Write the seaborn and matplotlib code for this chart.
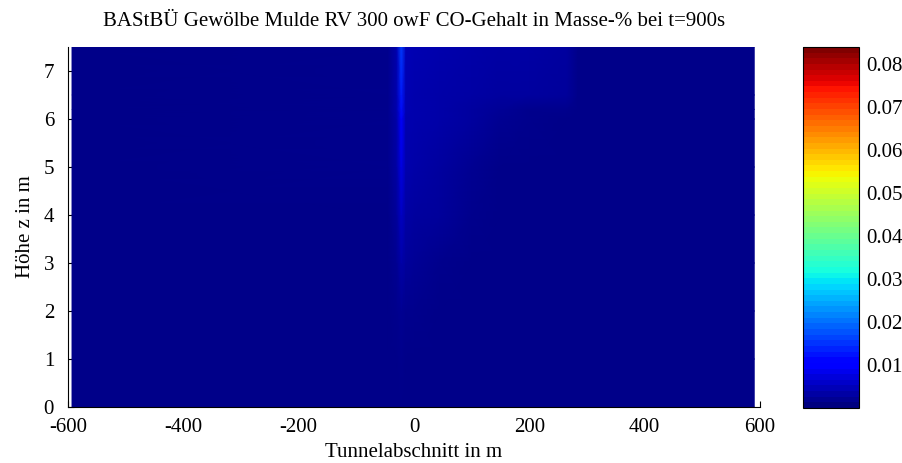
import numpy as np
import matplotlib
matplotlib.use("Agg")
import matplotlib.pyplot as plt
import seaborn as sns
from matplotlib.colors import Normalize
from matplotlib.cm import ScalarMappable

# ---- data ----
x_nodes = [-593, -45, -30, -22, -14, 0, 45, 100, 150, 200, 265, 285, 590]
z_nodes = [0.0, 1.0, 2.0, 3.0, 4.0, 5.0, 6.0, 6.2, 6.5, 7.5]
co_row_z0   = [0.0008, 0.0008, 0.0008, 0.0008, 0.0008, 0.0008, 0.0008, 0.0008, 0.0008, 0.0008, 0.0008, 0.0008, 0.0008]
co_row_z1   = [0.0008, 0.0008, 0.0008, 0.0010, 0.0009, 0.0008, 0.0008, 0.0008, 0.0008, 0.0008, 0.0008, 0.0008, 0.0008]
co_row_z2   = [0.0008, 0.0008, 0.0010, 0.0016, 0.0011, 0.0010, 0.0009, 0.0008, 0.0008, 0.0008, 0.0008, 0.0008, 0.0008]
co_row_z3   = [0.0008, 0.0008, 0.0015, 0.0032, 0.0020, 0.0018, 0.0012, 0.0008, 0.0008, 0.0008, 0.0008, 0.0008, 0.0008]
co_row_z4   = [0.0008, 0.0009, 0.0022, 0.0052, 0.0028, 0.0025, 0.0020, 0.0010, 0.0008, 0.0008, 0.0008, 0.0008, 0.0008]
co_row_z5   = [0.0008, 0.0010, 0.0028, 0.0075, 0.0033, 0.0030, 0.0026, 0.0016, 0.0009, 0.0008, 0.0008, 0.0008, 0.0008]
co_row_z6   = [0.0008, 0.0011, 0.0032, 0.0105, 0.0036, 0.0034, 0.0030, 0.0024, 0.0014, 0.0010, 0.0008, 0.0008, 0.0008]
co_row_z62  = [0.0008, 0.0011, 0.0033, 0.0115, 0.0037, 0.0035, 0.0031, 0.0026, 0.0018, 0.0012, 0.0010, 0.0008, 0.0008]
co_row_z65  = [0.0008, 0.0012, 0.0034, 0.0125, 0.0038, 0.0036, 0.0032, 0.0028, 0.0025, 0.0024, 0.0022, 0.0008, 0.0008]
co_row_z75  = [0.0008, 0.0012, 0.0035, 0.0155, 0.0040, 0.0038, 0.0034, 0.0030, 0.0028, 0.0027, 0.0025, 0.0008, 0.0008]

x_ticks = [-600, -400, -200, 0, 200, 400, 600]
z_ticks = [0, 1, 2, 3, 4, 5, 6, 7]
cbar_ticks = [0.01, 0.02, 0.03, 0.04, 0.05, 0.06, 0.07, 0.08]
vmin, vmax = 0.0, 0.084

title = "BAStBÜ Gewölbe Mulde RV 300 owF CO-Gehalt in Masse-% bei t=900s"
xlabel = "Tunnelabschnitt in m"
ylabel = "Höhe z in m"

# ---- plotting ----
sns.set_theme(style="ticks")
plt.rcParams['font.family'] = ['Liberation Serif', 'DejaVu Serif']
plt.rcParams['font.size'] = 15
plt.rcParams['text.color'] = 'black'
plt.rcParams['axes.labelcolor'] = 'black'

C = np.array([co_row_z0, co_row_z1, co_row_z2, co_row_z3, co_row_z4, co_row_z5,
              co_row_z6, co_row_z62, co_row_z65, co_row_z75])
X, Z = np.meshgrid(np.array(x_nodes, float), np.array(z_nodes, float))

fig = plt.figure(figsize=(9.03, 4.63), dpi=100)
ax = fig.add_axes([68/903, 1-407/463, 692/903, 360/463])
cax = fig.add_axes([803/903, 1-408/463, 56/903, 361/463])

cmap = plt.get_cmap('jet')
norm = Normalize(vmin=vmin, vmax=vmax)
ax.pcolormesh(X, Z, C, shading='gouraud', cmap=cmap, norm=norm, rasterized=True)

ax.set_xlim(-600, 600)
ax.set_ylim(0, 7.5)
ax.set_xticks(x_ticks)
ax.set_xticklabels([str(t) for t in x_ticks])
ax.set_yticks(z_ticks)
ax.tick_params(direction='in', length=4, width=0.8, colors='black', labelsize=15)
ax.tick_params(axis='x', pad=8)
ax.tick_params(axis='y', pad=10)
for s in ['top', 'right']:
    ax.spines[s].set_visible(False)
for s in ['left', 'bottom']:
    ax.spines[s].set_color('black')
    ax.spines[s].set_linewidth(0.8)
ax.set_title(title, fontsize=15, pad=15, color='black')
ax.set_xlabel(xlabel, fontsize=15, labelpad=4, color='black')
ax.set_ylabel(ylabel, fontsize=15, labelpad=6, color='black')

sm = ScalarMappable(norm=norm, cmap=plt.get_cmap('jet', 64))
cb = fig.colorbar(sm, cax=cax)
cb.set_ticks(cbar_ticks)
cb.set_ticklabels([f"{t:.2f}" for t in cbar_ticks])
cb.ax.tick_params(direction='in', length=4, width=0.8, labelsize=15, colors='black', pad=5)
cb.outline.set_edgecolor('black')
cb.outline.set_linewidth(0.8)

fig.savefig("out.png", dpi=100)
